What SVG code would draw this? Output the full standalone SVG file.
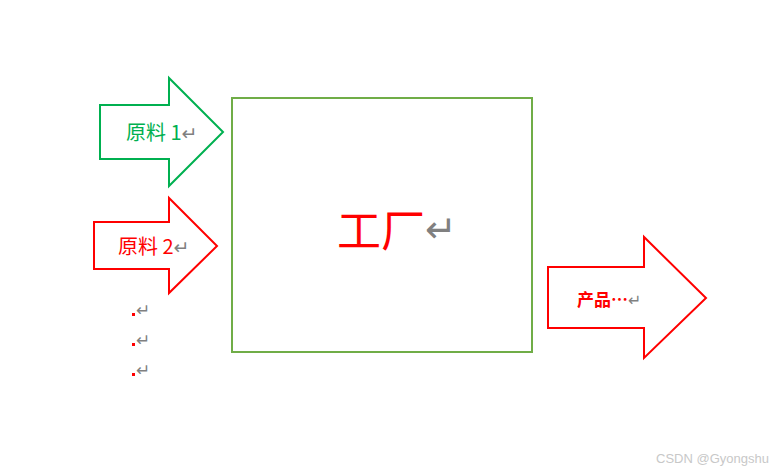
<svg xmlns="http://www.w3.org/2000/svg" width="778" height="472" viewBox="0 0 778 472">
<style>
.cjk{font-family:"Noto Sans CJK SC","Liberation Sans",sans-serif;}
.ret{fill:#808080;font-family:"DejaVu Sans",sans-serif;}
.g{fill:#00B050;}
.r{fill:#FF0000;}
.arrow{fill:#FFFFFF;stroke-width:2;stroke-linejoin:miter;}
</style>
<rect width="778" height="472" fill="#FFFFFF"/>
<g id="connectors">
<g id="input1">
<path class="arrow" stroke="#00B050" d="M100,105 H169 V78 L223,132 L169,186 V159 H100 Z"/>
<text class="cjk g" x="126" y="140" font-size="20">原料 1<tspan class="ret" font-size="19">↵</tspan></text>
</g>
<g id="input2">
<path class="arrow" stroke="#FF0000" d="M94,222 H169 V198 L217,246 L169,293 V269 H94 Z"/>
<text class="cjk r" x="118" y="254" font-size="20">原料 2<tspan class="ret" font-size="19">↵</tspan></text>
</g>
<g id="output">
<path class="arrow" stroke="#FF0000" d="M548,267 H644 V237 L706,298 L644,358 V328 H548 Z"/>
<text class="cjk r" x="577" y="306" font-size="17" font-weight="bold">产品…<tspan class="ret" font-size="16" font-weight="normal">↵</tspan></text>
</g>
</g>
<g id="factory">
<rect x="232" y="98" width="300" height="254" fill="#FFFFFF" stroke="#70AD47" stroke-width="2"/>
<text class="cjk r" x="337" y="247" font-size="44">工厂<tspan class="ret" font-size="38" dy="-5">↵</tspan></text>
</g>
<g id="dots">
<rect x="132" y="313" width="3" height="3" fill="#FF0000"/>
<rect x="132" y="343" width="3" height="3" fill="#FF0000"/>
<rect x="132" y="373" width="3" height="3" fill="#FF0000"/>
<text class="ret" x="136" y="316" font-size="17">↵</text>
<text class="ret" x="136" y="346" font-size="17">↵</text>
<text class="ret" x="136" y="376" font-size="17">↵</text>
</g>
<text x="656" y="463" font-family="Liberation Sans,sans-serif" font-size="13" fill="#C8C8C8">CSDN @Gyongshu</text>
</svg>
